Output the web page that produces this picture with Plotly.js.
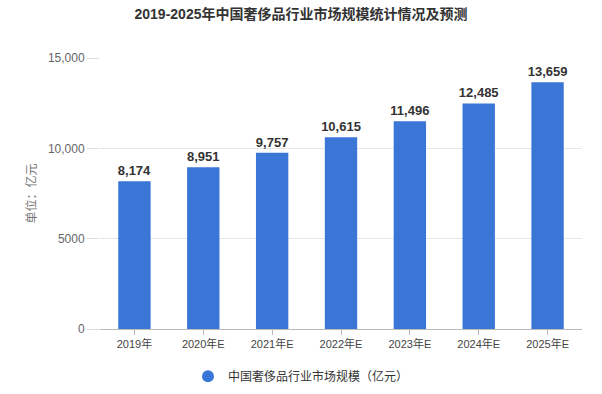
<!DOCTYPE html>
<html>
<head>
<meta charset="utf-8">
<script src="https://cdn.plot.ly/plotly-3.0.1.min.js"></script>
<style>html,body{margin:0;padding:0;background:#fff;}#chart{width:602px;height:394px;}</style>
</head>
<body>
<div id="chart"></div>
<script>
var categories = ["2019年","2020年E","2021年E","2022年E","2023年E","2024年E","2025年E"];
var values = [8174, 8951, 9757, 10615, 11496, 12485, 13659];
var tickVals = [0, 5000, 10000, 15000];
var tickText = ["0", "5000", "10,000", "15,000"];
var seriesName = "中国奢侈品行业市场规模（亿元）";
var FONT = "Liberation Sans, Noto Sans CJK SC, sans-serif";
var barColor = "#3a76d6";

var bar = {
  type: "bar", x: categories, y: values, name: seriesName, showlegend: false,
  marker: {color: barColor},
  text: values.map(function(v){ return "<b>" + v.toLocaleString("en-US") + "</b>"; }),
  textposition: "outside", cliponaxis: false, constraintext: "none",
  textfont: {family: FONT, size: 13, color: "#333"},
  hoverinfo: "skip"
};
var legendTrace = {
  type: "scatter", mode: "markers", x: [categories[0]], y: [null], name: seriesName,
  marker: {symbol: "circle", size: 12, color: barColor}, showlegend: true
};
var layout = {
  width: 602, height: 394,
  margin: {l: 100, r: 20, t: 58, b: 65},
  paper_bgcolor: "#fff", plot_bgcolor: "#fff",
  font: {family: FONT, size: 12, color: "#555"},
  title: {text: "<b>2019-2025年中国奢侈品行业市场规模统计情况及预测</b>", x: 0.5, xanchor: "center", y: 0.965, yanchor: "middle",
    font: {family: FONT, size: 14, color: "#333"}},
  bargap: 0.53,
  xaxis: {type: "category", showline: true, linecolor: "#bbb", linewidth: 1, ticks: "outside", ticklen: 5, tickcolor: "#bbb",
    tickfont: {size: 11, color: "#444"}, showgrid: false, zeroline: false, automargin: false},
  yaxis: {range: [0, 15000], tickvals: tickVals, ticktext: tickText, showgrid: true, gridcolor: "#e6e6e6",
    zeroline: false, ticks: "outside", ticklen: 12, tickcolor: "#ddd", tickfont: {size: 12, color: "#666"},
    automargin: false,
    title: {text: "单位：亿元", font: {size: 12, color: "#777"}, standoff: 8}},
  legend: {orientation: "h", xref: "container", yref: "container", x: 0.5, xanchor: "center", y: 0.045, yanchor: "middle",
    font: {size: 12, color: "#333"}},
  showlegend: true
};
Plotly.newPlot("chart", [bar, legendTrace], layout, {displayModeBar: false, staticPlot: true});
</script>
</body>
</html>
